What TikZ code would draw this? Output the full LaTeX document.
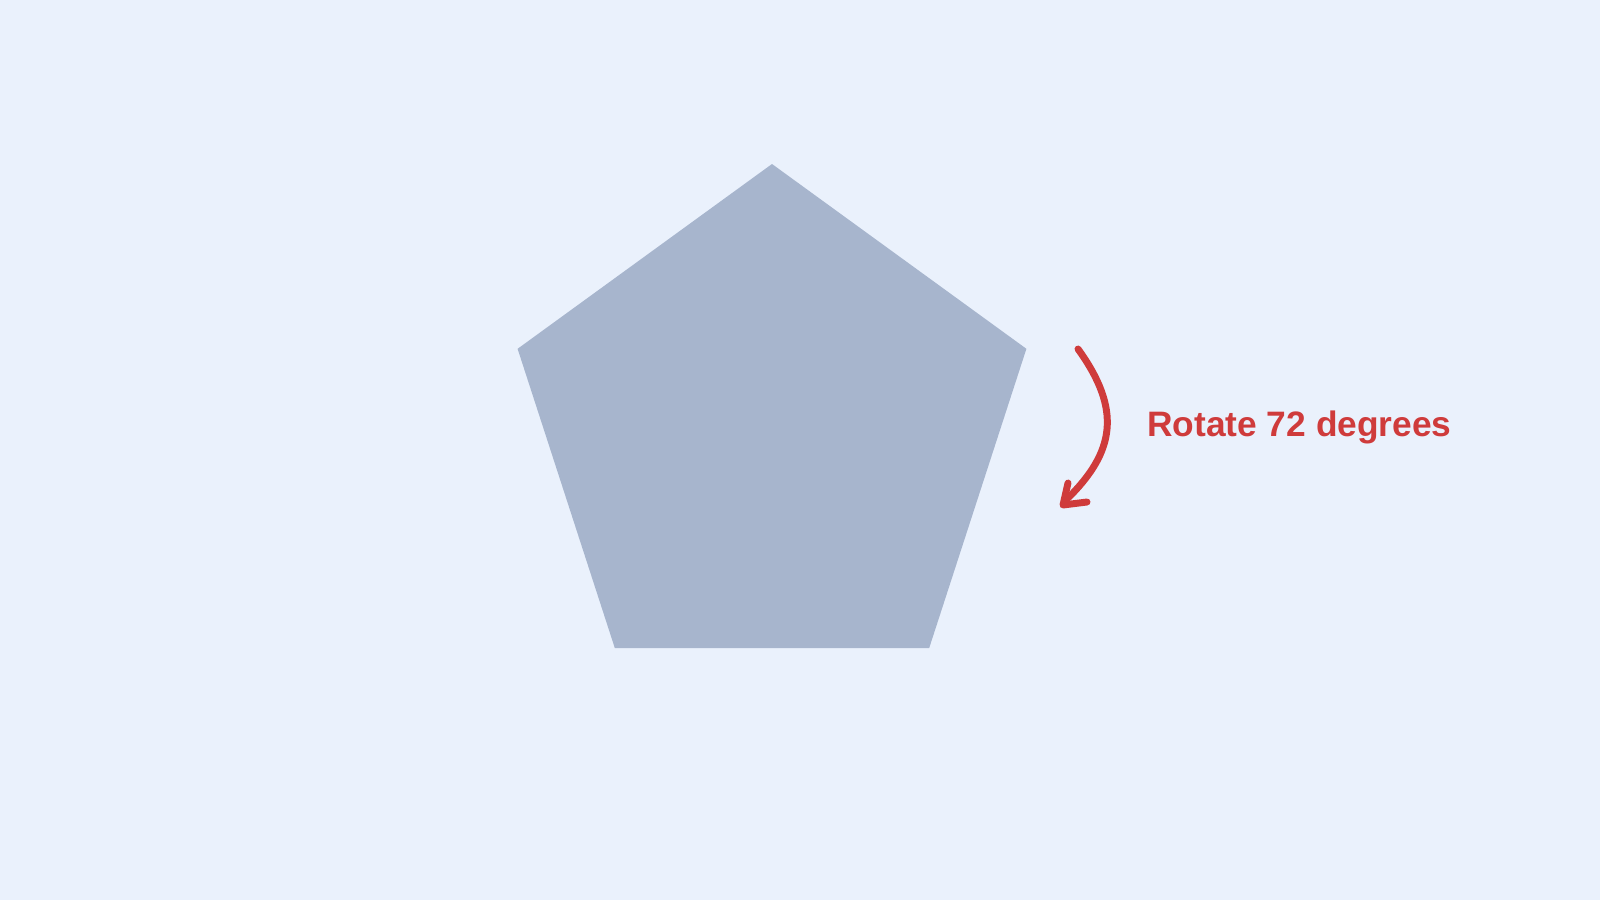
\documentclass[tikz,border=0pt]{standalone}
\usepackage{fontspec}
\setmainfont{Liberation Sans}
\definecolor{bg}{HTML}{EAF1FC}
\definecolor{penta}{HTML}{A7B5CD}
\definecolor{accent}{HTML}{CF3B3B}
\begin{document}
\begin{tikzpicture}[x=0.75pt,y=-0.75pt,
  arrowline/.style={draw=accent,line width=5.2pt,line cap=round,line join=round}]
\fill[bg] (0,0) rectangle (1600,900);
\useasboundingbox (0,0) rectangle (1600,900);
% pentagon
\coordinate (c) at (772,431.5);
\fill[penta] (772,164) -- (1026.4,348.8) -- (929.2,648) -- (614.8,648) -- (517.6,348.8) -- cycle;
% arrow
\coordinate (s) at (1078,349);
\coordinate (e) at (1067,499);
\coordinate (tip) at (1063,505);
\draw[arrowline] (s) .. controls (1122,410) and (1115,452) .. (e);
\draw[arrowline] (1068,483) -- (tip) -- (1087,502);
% label
\node[anchor=base west,inner sep=0pt,text=accent,font=\fontsize{26.5pt}{31pt}\selectfont\bfseries] (lbl) at (1147,436) {Rotate 72 degrees};
\end{tikzpicture}
\end{document}
